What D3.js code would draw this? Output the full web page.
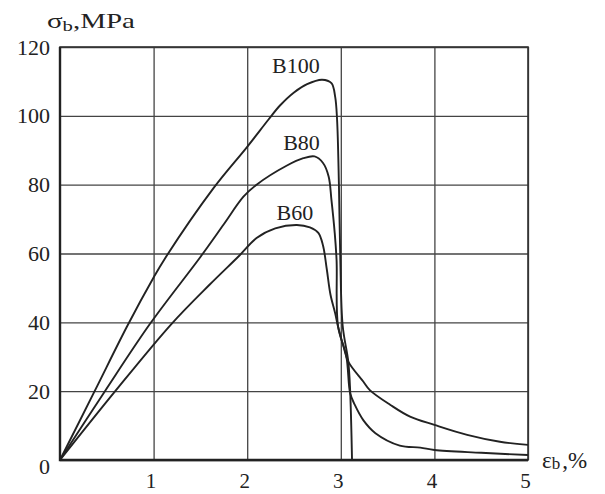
<!DOCTYPE html>
<html>
<head>
<meta charset="utf-8">
<script src="https://cdn.jsdelivr.net/npm/d3@7"></script>
<style>
  body { margin: 0; background: #fff; }
  svg { display: block; }
  text { font-family: "Liberation Serif", "Times New Roman", serif; }
</style>
</head>
<body>
<svg id="chart" width="605" height="494"></svg>
<script>
// strain eb (%) vs stress sb (MPa)
const xTicks = [1, 2, 3, 4, 5];
const yTicks = [0, 20, 40, 60, 80, 100, 120];

const b100 = [
    [0, 0], [0.37, 20], [0.72, 39], [1.0, 53], [1.12, 58.5], [1.64, 79],
    [2.0, 91], [2.23, 99], [2.35, 103], [2.5, 106.8], [2.64, 109.2], [2.8, 110.5],
    [2.9, 109.5], [2.94, 105.5], [2.96, 99], [2.98, 80], [2.995, 58],
    [3.02, 39], [3.08, 28.6], [3.1, 20], [3.12, 0],
];
const b80 = [
    [0, 0], [0.48, 20], [0.96, 39.5], [1.5, 59], [1.75, 68.5], [1.96, 76.5],
    [2.1, 80], [2.42, 85.5], [2.6, 87.7], [2.72, 88.2], [2.81, 86.3],
    [2.87, 82.4], [2.9, 75.6], [2.935, 66], [2.955, 58], [2.97, 39],
    [3.06, 30], [3.1, 19.4], [3.15, 16], [3.24, 11.6], [3.37, 7.8],
    [3.63, 4.2], [3.85, 3.6], [4.0, 2.9], [4.5, 2.1], [5.0, 1.45],
];
const b60 = [
    [0, 0], [0.59, 20], [1.19, 39.5], [1.6, 51], [1.92, 59.5], [2.1, 64.5],
    [2.3, 67.3], [2.53, 68.3], [2.67, 67.6], [2.76, 66], [2.81, 62.3],
    [2.85, 55.5], [2.89, 48], [2.94, 42.6], [2.97, 38.8], [3.03, 32.9],
    [3.08, 28.6], [3.24, 22.8], [3.31, 20.3], [3.53, 16], [3.74, 12.6],
    [4.0, 10.2], [4.35, 7.3], [4.7, 5.3], [5.0, 4.4],
];

const series = [
    { name: "B100", pts: b100, lx: 2.52, ly: 112.5 },
    { name: "B80", pts: b80, lx: 2.58, ly: 90.1 },
    { name: "B60", pts: b60, lx: 2.51, ly: 69.8 },
];

const mLeft = 60, mRight = 528, mTop = 47, mBottom = 460;
const ink = "#222";

let svg = d3.select("#chart");
let x = d3.scaleLinear().domain([0, 5]).range([mLeft, mRight]);
let y = d3.scaleLinear().domain([0, 120]).range([mBottom, mTop]);

// grid + tick labels
let gy = svg
    .append("g")
    .attr("transform", `translate(${mLeft},0)`)
    .call(d3.axisLeft(y).tickValues(yTicks).tickFormat(d3.format("d"))
        .tickSize(-(mRight - mLeft)).tickPadding(10));
let gx = svg
    .append("g")
    .attr("transform", `translate(0,${mBottom})`)
    .call(d3.axisBottom(x).tickValues(xTicks).tickFormat(d3.format("d"))
        .tickSize(-(mBottom - mTop)).tickPadding(13));

[gy, gx].forEach((g) => {
    g.attr("font-family", null);
    g.select(".domain").remove();
    g.selectAll(".tick line").attr("stroke", "#444").attr("stroke-width", 1.3);
    g.selectAll(".tick text")
        .attr("fill", ink)
        .attr("font-size", 22);
});
gx.selectAll(".tick text").attr("dx", -3).attr("font-size", 21);
gy.selectAll(".tick text").filter((d) => d === 0).attr("dy", "0.62em");

// frame
svg.append("rect")
    .attr("x", mLeft)
    .attr("y", mTop)
    .attr("width", mRight - mLeft)
    .attr("height", mBottom - mTop)
    .attr("fill", "none")
    .attr("stroke", "#333")
    .attr("stroke-width", 1.6);
svg.append("path")
    .attr("d", `M${mLeft},${mTop}V${mBottom}H${mRight}`)
    .attr("fill", "none")
    .attr("stroke", "#222")
    .attr("stroke-width", 2.4);

// curves
let line = d3
    .line()
    .x((d) => x(d[0]))
    .y((d) => y(d[1]))
    .curve(d3.curveCatmullRom.alpha(0.5));

svg.selectAll("path.curve")
    .data(series)
    .enter()
    .append("path")
    .attr("class", "curve")
    .attr("d", (d) => line(d.pts))
    .attr("fill", "none")
    .attr("stroke", ink)
    .attr("stroke-width", 1.9);

svg.selectAll("text.lbl")
    .data(series)
    .enter()
    .append("text")
    .attr("class", "lbl")
    .attr("x", (d) => x(d.lx))
    .attr("y", (d) => y(d.ly))
    .attr("text-anchor", "middle")
    .attr("font-size", 22)
    .attr("fill", ink)
    .text((d) => d.name);

// axis titles
let yt = svg.append("text")
    .attr("x", 47)
    .attr("y", 28)
    .attr("font-size", 21)
    .attr("textLength", 88)
    .attr("lengthAdjust", "spacingAndGlyphs")
    .attr("fill", ink);
yt.append("tspan").text("σ");
yt.append("tspan").attr("font-size", 15).attr("dy", 3).text("b");
yt.append("tspan").attr("dy", -3).text(",MPa");

let xt = svg.append("text")
    .attr("x", 542)
    .attr("y", 468)
    .attr("font-size", 23)
    .attr("fill", ink);
xt.append("tspan").text("ε");
xt.append("tspan").attr("font-size", 17).attr("dy", 1).text("b");
xt.append("tspan").attr("dy", -1).attr("dx", 2).text(",%");
</script>
</body>
</html>
